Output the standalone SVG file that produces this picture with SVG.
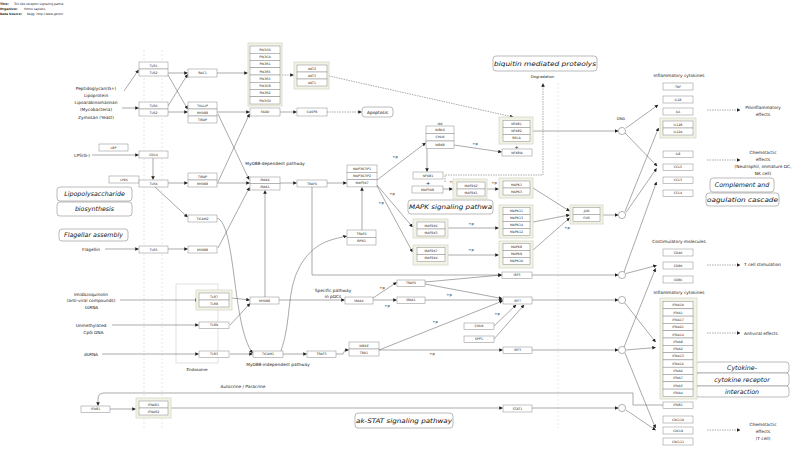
<svg xmlns="http://www.w3.org/2000/svg" width="800" height="451" viewBox="0 0 800 451">
<defs>
<marker id="a" viewBox="0 0 10 10" refX="9" refY="5" markerWidth="3.6" markerHeight="3.6" markerUnits="userSpaceOnUse" orient="auto"><path d="M0,0L10,5L0,10z" fill="#222"/></marker>
</defs>
<style>
text{font-family:"DejaVu Sans",sans-serif;fill:#222}
.n rect{fill:#fff;stroke:#888;stroke-width:.5}
.n text{font-size:3.2px;text-anchor:middle}
.n .fr{fill:#f2f2e6;stroke:#d8d8c8;stroke-width:.8}
.c line,.c path{fill:none;stroke:#555;stroke-width:.5;marker-end:url(#a)}
.c .d{stroke-dasharray:1.5 1}
.p rect{fill:#fff;stroke:#777;stroke-width:.5}
.p text{font-size:6.3px;font-style:italic;text-anchor:middle;fill:#111}
.lb{font-size:4.3px;text-anchor:middle}
.sm{font-size:3.8px;text-anchor:middle}
.g{stroke:#ccc;stroke-width:.5;stroke-dasharray:2 2;fill:none}
.dna{fill:#fff;stroke:#666;stroke-width:.5}
</style>
<rect width="800" height="451" fill="#fff"/>
<g id="header" font-size="3">
<text x="0" y="5.2" font-weight="bold">Title:</text><text x="14" y="5.2">Toll-like receptor signaling pathw</text>
<text x="0" y="10.2" font-weight="bold">Organism:</text><text x="24" y="10.2">Homo sapiens</text>
<text x="0" y="15.3" font-weight="bold">Data Source:</text><text x="27" y="15.3">Kegg: http://www.genon</text>
</g>
<path class="g" d="M144,50V430M162,50V430M558,83V428"/>
<g id="endosome"><rect x="176" y="284" width="42" height="79" fill="none" stroke="#ccc" stroke-width=".6"/><text x="197" y="370.5" font-size="4" text-anchor="middle">Endosome</text></g>

<g id="labels">
<text class="lb" x="96" y="90">Peptidoglycan(G+)</text>
<text class="lb" x="96" y="96.8">Lipoprotein</text>
<text class="lb" x="96" y="103.8">Lipoarabinomannan</text>
<text class="lb" x="96" y="110.8">(Mycobacteria)</text>
<text class="lb" x="96" y="118.8">Zymosan (Yeast)</text>
<text class="lb" x="90" y="156.8" style="text-anchor:end">LPS(G-)</text>
<text class="lb" x="91" y="250.6">Flagellin</text>
<text class="lb" x="91" y="295.8">Imidazoquinolin</text>
<text class="lb" x="91" y="302.2">(anti-viral compounds)</text>
<text class="lb" x="91.5" y="308.6">ssRNA</text>
<text class="lb" x="91" y="326.6">Unmethylated</text>
<text class="lb" x="93.5" y="334.4">CpG DNA</text>
<text class="lb" x="91" y="355.6">dsRNA</text>
<text class="lb" x="275" y="164.5">MyD88-dependent pathway</text>
<text class="lb" x="278" y="366">MyD88-independent pathway</text>
<text class="lb" x="243" y="388">Autocrine / Paracrine</text>
<text class="lb" x="333" y="291.5">Specific pathway</text>
<text class="lb" x="333" y="297.8">in pDCs</text>
<text class="sm" x="542.5" y="77.5">Degradation</text>
<text class="sm" x="621" y="120">DNA</text>
<text class="lb" x="679" y="77">Inflammatory cytokines</text>
<text class="lb" x="763" y="109">Proinflammatory</text>
<text class="lb" x="763" y="116">effects</text>
<text class="lb" x="763" y="154">Chemotactic</text>
<text class="lb" x="763" y="161">effects</text>
<text class="lb" x="763" y="168">(Neutrophil, immature DC,</text>
<text class="lb" x="763" y="175">NK cell)</text>
<text class="lb" x="679" y="243">Costimulatory molecules</text>
<text class="lb" x="744" y="266" style="text-anchor:start">T cell stimulation</text>
<text class="lb" x="679" y="294">Inflammatory cytokines</text>
<text class="lb" x="744" y="335" style="text-anchor:start">Antiviral effects</text>
<text class="lb" x="763" y="426">Chemotactic</text>
<text class="lb" x="763" y="433">effects</text>
<text class="lb" x="763" y="440">(T cell)</text>
<g class="sm">
<text x="475" y="145">+p</text><text x="395" y="158">+p</text><text x="392" y="195">+p</text><text x="381" y="204">+p</text>
<text x="452" y="183">+p</text><text x="494" y="184">+p</text><text x="471" y="225">+p</text><text x="471" y="251">+p</text>
<text x="567" y="229">+p</text><text x="449" y="296">+p</text><text x="387" y="307">+p</text><text x="382" y="289">+p</text>
<text x="435" y="323">+p</text><text x="432" y="355">+p</text><text x="497" y="315">+p</text>
</g>
<text x="516.5" y="148.6" font-size="5" text-anchor="middle">+</text>
<text x="428" y="185.3" font-size="5" text-anchor="middle">+</text>
</g>

<g class="p">
<g id="pw_apoptosis"><rect x="362" y="107" width="31" height="10" rx="3"/><text x="377.5" y="113.6" style="font-style:normal;font-size:4.3px">Apoptosis</text></g>
<g id="pw_ubiquitin"><rect x="493" y="56" width="104" height="15" rx="3"/><text x="545" y="66" textLength="102" lengthAdjust="spacingAndGlyphs">biquitin mediated proteolys</text></g>
<g id="pw_lps"><rect x="57" y="187" width="75" height="14" rx="3"/><text x="94.5" y="196.3">Lipopolysaccharide</text><rect x="57" y="202" width="75" height="14" rx="3"/><text x="94.5" y="211.3">biosynthesis</text></g>
<g id="pw_flagellar"><rect x="59" y="229" width="69" height="12" rx="3"/><text x="93.5" y="237.3">Flagellar assembly</text></g>
<g id="pw_mapk"><rect x="408" y="200" width="85" height="14" rx="3"/><text x="450.5" y="209.3" textLength="83" lengthAdjust="spacingAndGlyphs">MAPK signaling pathwa</text></g>
<g id="pw_complement"><rect x="710" y="178" width="64" height="14" rx="3"/><text x="742" y="187.3">Complement and</text><rect x="706" y="193" width="73" height="13" rx="3"/><text x="742.5" y="202" textLength="71" lengthAdjust="spacingAndGlyphs">oagulation cascade</text></g>
<g id="pw_cytokine"><rect x="696" y="362" width="93" height="11" rx="3"/><text x="742" y="369.8">Cytokine-</text><rect x="696" y="373" width="93" height="13" rx="3"/><text x="742" y="381.8">cytokine receptor</text><rect x="696" y="386" width="93" height="11" rx="3"/><text x="742" y="393.8">interaction</text></g>
<g id="pw_jakstat"><rect x="355" y="413" width="98" height="15" rx="3"/><text x="404" y="423" textLength="96" lengthAdjust="spacingAndGlyphs">ak-STAT signaling pathway</text></g>
</g>

<g id="connectors" class="c">
<line x1="124" y1="91" x2="138.5" y2="70"/>
<line x1="122" y1="108" x2="138.5" y2="108"/>
<line x1="168" y1="73" x2="187.5" y2="73"/>
<line x1="168" y1="75" x2="187.5" y2="109"/>
<line x1="168" y1="106" x2="187.5" y2="74.5"/>
<line x1="168" y1="112" x2="187.5" y2="112"/>
<line x1="217" y1="73" x2="247.5" y2="73"/>
<line class="d" x1="282" y1="75" x2="293.5" y2="75"/>
<line class="d" x1="329" y1="76" x2="513" y2="117"/>
<line x1="217" y1="112" x2="249.5" y2="112"/>
<line x1="218" y1="114" x2="249" y2="179.5"/>
<line x1="218" y1="182" x2="249.5" y2="114"/>
<line x1="280" y1="112" x2="296.5" y2="112"/>
<line class="d" x1="327" y1="112" x2="361.5" y2="112"/>
<line x1="92" y1="155" x2="138.5" y2="155"/>
<line x1="153" y1="158" x2="153" y2="179.5"/>
<line x1="168" y1="183" x2="187.5" y2="183"/>
<line x1="155" y1="187" x2="187.5" y2="217"/>
<line x1="217" y1="183" x2="249.5" y2="183"/>
<line x1="105" y1="249" x2="138.5" y2="249"/>
<line x1="168" y1="249" x2="187.5" y2="249"/>
<line x1="218" y1="248" x2="249.5" y2="187.5"/>
<line x1="280" y1="183" x2="296.5" y2="183"/>
<line x1="327" y1="183" x2="346.5" y2="183"/>
<path d="M312,187V275H501.5"/>
<line x1="362" y1="230" x2="362" y2="187.5"/>
<path d="M217,218C236,224 232,325 252.5,353"/>
<path d="M281,351C292,320 286,290 300,266S330,240 346.5,236"/>
<line x1="377" y1="180" x2="425.5" y2="143"/>
<line x1="454" y1="145" x2="501.5" y2="152"/>
<line x1="427" y1="148" x2="427" y2="171.5"/>
<line x1="377" y1="185" x2="412.5" y2="227"/>
<line x1="377" y1="186" x2="412.5" y2="252"/>
<line x1="443" y1="189" x2="452.5" y2="189"/>
<line x1="487" y1="189" x2="498.5" y2="189"/>
<line x1="448" y1="228" x2="498.5" y2="228"/>
<line x1="448" y1="255" x2="498.5" y2="255"/>
<line x1="533" y1="188" x2="569.5" y2="211"/>
<line x1="533" y1="222" x2="569.5" y2="215"/>
<line x1="533" y1="250" x2="569.5" y2="218"/>
<line x1="603" y1="215" x2="618" y2="215"/>
<line x1="533" y1="131" x2="618" y2="131"/>
<line x1="532" y1="275" x2="618" y2="275"/>
<line x1="425" y1="282" x2="501.5" y2="275"/>
<line x1="425" y1="284" x2="502" y2="298.5"/>
<line x1="373" y1="298" x2="396.5" y2="282.5"/>
<line x1="279" y1="300" x2="344.5" y2="300"/>
<line x1="373" y1="300" x2="396.5" y2="300"/>
<line x1="425" y1="300" x2="502.5" y2="300"/>
<line x1="265" y1="297" x2="265" y2="190.5"/>
<line x1="232" y1="298" x2="249.5" y2="300"/>
<line x1="230" y1="325" x2="250" y2="303.5"/>
<line x1="230" y1="354" x2="252.5" y2="354"/>
<line x1="120" y1="300" x2="198" y2="300"/>
<line x1="112" y1="325" x2="198.5" y2="325"/>
<line x1="102" y1="354" x2="198.5" y2="354"/>
<line x1="283" y1="354" x2="306.5" y2="354"/>
<path d="M336,354H343L345,350H348.5"/>
<line x1="379" y1="350" x2="502.5" y2="301"/>
<line x1="379" y1="350" x2="502.5" y2="350"/>
<line x1="494" y1="326" x2="516" y2="305"/>
<line x1="494" y1="339" x2="524" y2="305"/>
<line x1="532" y1="300" x2="618" y2="300"/>
<line x1="532" y1="350" x2="618" y2="350"/>
<line x1="532" y1="408" x2="618" y2="408"/>
<path class="d" d="M445,182V175H543V83.5"/>
<path d="M663,405H633V393H104Q98,393 98,399V405.5" stroke="#888"/>
<line x1="110" y1="409" x2="135.5" y2="409"/>
<line x1="171" y1="408" x2="502.5" y2="408"/>
<line x1="626" y1="128" x2="658" y2="105"/>
<line x1="625" y1="133" x2="657" y2="166"/>
<line x1="625" y1="211.5" x2="658.5" y2="128"/>
<line x1="626" y1="212.5" x2="656.5" y2="168.5"/>
<line x1="624" y1="272" x2="656.5" y2="182"/>
<line x1="626" y1="273.5" x2="656.5" y2="265.5"/>
<line x1="624.5" y1="302.5" x2="655.5" y2="342"/>
<line x1="624" y1="347" x2="655.5" y2="268.5"/>
<line x1="626" y1="350" x2="655.5" y2="347.5"/>
<line x1="625" y1="353" x2="655.5" y2="428"/>
<line x1="626" y1="410" x2="655.5" y2="430"/>
<line class="d" x1="707" y1="110" x2="740" y2="110"/>
<line class="d" x1="707" y1="160" x2="740" y2="160"/>
<line class="d" x1="707" y1="265" x2="740" y2="265"/>
<line class="d" x1="707" y1="333" x2="740" y2="333"/>
<line class="d" x1="707" y1="430" x2="740" y2="430"/>
</g>

<g class="n">
<g id="tlr1_2"><rect x="139" y="62" width="29" height="7"/><text x="153.5" y="66.65">TLR1</text><rect x="139" y="69" width="29" height="7"/><text x="153.5" y="73.65">TLR2</text></g>
<g id="tlr6_2"><rect x="139" y="102" width="29" height="7"/><text x="153.5" y="106.65">TLR6</text><rect x="139" y="109" width="29" height="7"/><text x="153.5" y="113.65">TLR2</text></g>
<g id="rac1"><rect x="188" y="69" width="29" height="8"/><text x="202.5" y="74.15">RAC1</text></g>
<g id="tollip"><rect x="188" y="102" width="29" height="7"/><text x="202.5" y="106.65">TOLLIP</text><rect x="188" y="109" width="29" height="7"/><text x="202.5" y="113.65">MYD88</text><rect x="188" y="116" width="29" height="7"/><text x="202.5" y="120.65">TIRAP</text></g>
<g id="pik3"><rect class="fr" x="248" y="43" width="34" height="63"/>
<rect x="250" y="46" width="30" height="7.25"/><text x="265" y="50.8">PIK3CG</text>
<rect x="250" y="53.25" width="30" height="7.25"/><text x="265" y="58">PIK3CA</text>
<rect x="250" y="60.5" width="30" height="7.25"/><text x="265" y="65.3">PIK3R1</text>
<rect x="250" y="67.75" width="30" height="7.25"/><text x="265" y="72.5">PIK3R5</text>
<rect x="250" y="75" width="30" height="7.25"/><text x="265" y="79.8">PIK3R3</text>
<rect x="250" y="82.25" width="30" height="7.25"/><text x="265" y="87">PIK3CB</text>
<rect x="250" y="89.5" width="30" height="7.25"/><text x="265" y="94.3">PIK3R2</text>
<rect x="250" y="96.75" width="30" height="7.25"/><text x="265" y="101.5">PIK3CD</text></g>
<g id="akt"><rect class="fr" x="294" y="62" width="35" height="27"/>
<rect x="297" y="65" width="30" height="7"/><text x="312" y="69.65">AKT2</text>
<rect x="297" y="72" width="30" height="7"/><text x="312" y="76.65">AKT3</text>
<rect x="297" y="79" width="30" height="7"/><text x="312" y="83.65">AKT1</text></g>
<g id="fadd"><rect x="250" y="108" width="30" height="8"/><text x="265" y="113.15">FADD</text></g>
<g id="casp8"><rect x="297" y="108" width="30" height="8"/><text x="312" y="113.15">CASP8</text></g>
<g id="lbp"><rect x="99" y="144" width="29" height="7"/><text x="113.5" y="148.65">LBP</text></g>
<g id="cd14"><rect x="139" y="151" width="29" height="7"/><text x="153.5" y="155.65">CD14</text></g>
<g id="ly96"><rect x="109" y="176" width="30" height="7"/><text x="124" y="180.65">LY96</text></g>
<g id="tlr4"><rect x="139" y="180" width="29" height="7"/><text x="153.5" y="184.65">TLR4</text></g>
<g id="tirap_myd88"><rect x="188" y="173" width="29" height="7"/><text x="202.5" y="177.65">TIRAP</text><rect x="188" y="180" width="29" height="7"/><text x="202.5" y="184.65">MYD88</text></g>
<g id="ticam2"><rect x="188" y="215" width="29" height="7"/><text x="202.5" y="219.65">TICAM2</text></g>
<g id="tlr5"><rect x="139" y="246" width="29" height="7"/><text x="153.5" y="250.65">TLR5</text></g>
<g id="myd88_tlr5"><rect x="188" y="246" width="29" height="7"/><text x="202.5" y="250.65">MYD88</text></g>
<g id="irak4_1"><rect x="250" y="177" width="30" height="6.5"/><text x="265" y="181.4">IRAK4</text><rect x="250" y="183.5" width="30" height="6.5"/><text x="265" y="187.9">IRAK1</text></g>
<g id="traf6"><rect x="297" y="180" width="30" height="7"/><text x="312" y="184.65">TRAF6</text></g>
<g id="map3k7"><rect x="347" y="165" width="30" height="7.3"/><text x="362" y="169.8">MAP3K7IP1</text><rect x="347" y="172.3" width="30" height="7.3"/><text x="362" y="177.1">MAP3K7IP2</text><rect x="347" y="179.6" width="30" height="7.3"/><text x="362" y="184.4">MAP3K7</text></g>
<g id="traf6_ripk1"><rect x="347" y="230" width="29" height="7.5"/><text x="361.5" y="234.9">TRAF6</text><rect x="347" y="237.5" width="29" height="7.5"/><text x="361.5" y="242.4">RIPK1</text></g>
<g id="ikk"><text x="440" y="124.5">IKK</text><rect x="426" y="126" width="28" height="7.5"/><text x="440" y="130.9">IKBKG</text><rect x="426" y="133.5" width="28" height="7.5"/><text x="440" y="138.4">CHUK</text><rect x="426" y="141" width="28" height="7.5"/><text x="440" y="145.9">IKBKB</text></g>
<g id="nfkb"><rect class="fr" x="499" y="117" width="34" height="27"/><rect x="503" y="120.5" width="27" height="7"/><text x="516.5" y="125.15">NFKB1</text><rect x="503" y="127.5" width="27" height="7"/><text x="516.5" y="132.15">NFKB2</text><rect x="503" y="134.5" width="27" height="7"/><text x="516.5" y="139.15">RELA</text></g>
<g id="nfkbia"><rect x="502" y="149" width="30" height="7"/><text x="517" y="153.65">NFKBIA</text></g>
<g id="nfkb1_map3k8"><rect x="413" y="172" width="30" height="7"/><text x="428" y="176.65">NFKB1</text><rect x="412" y="186" width="31" height="7"/><text x="427.5" y="190.65">MAP3K8</text></g>
<g id="map2k1_2"><rect class="fr" x="453" y="179" width="34" height="20"/><rect x="457" y="182" width="28" height="7"/><text x="471" y="186.65">MAP2K2</text><rect x="457" y="189" width="28" height="7"/><text x="471" y="193.65">MAP2K1</text></g>
<g id="mapk1_3"><rect class="fr" x="499" y="178" width="34" height="20"/><rect x="503" y="181" width="27" height="7"/><text x="516.5" y="185.65">MAPK1</text><rect x="503" y="188" width="27" height="7"/><text x="516.5" y="192.65">MAPK3</text></g>
<g id="map2k6_3"><rect class="fr" x="413" y="219" width="35" height="19"/><rect x="417" y="222" width="28" height="7"/><text x="431" y="226.65">MAP2K6</text><rect x="417" y="229" width="28" height="7"/><text x="431" y="233.65">MAP2K3</text></g>
<g id="map2k7_4"><rect class="fr" x="413" y="245" width="35" height="20"/><rect x="417" y="247.5" width="28" height="7"/><text x="431" y="252.15">MAP2K7</text><rect x="417" y="254.5" width="28" height="7"/><text x="431" y="259.15">MAP2K4</text></g>
<g id="p38"><rect class="fr" x="499" y="205" width="34" height="33"/><rect x="503" y="207.5" width="27" height="7"/><text x="516.5" y="212.15">MAPK11</text><rect x="503" y="214.5" width="27" height="7"/><text x="516.5" y="219.15">MAPK13</text><rect x="503" y="221.5" width="27" height="7"/><text x="516.5" y="226.15">MAPK14</text><rect x="503" y="228.5" width="27" height="7"/><text x="516.5" y="233.15">MAPK12</text></g>
<g id="jnk"><rect class="fr" x="499" y="241" width="34" height="27"/><rect x="503" y="243.5" width="27" height="7"/><text x="516.5" y="248.15">MAPK8</text><rect x="503" y="250.5" width="27" height="7"/><text x="516.5" y="255.15">MAPK9</text><rect x="503" y="257.5" width="27" height="7"/><text x="516.5" y="262.15">MAPK10</text></g>
<g id="jun_fos"><rect class="fr" x="570" y="205" width="33" height="19"/><rect x="573" y="207.5" width="27" height="7"/><text x="586.5" y="212.15">JUN</text><rect x="573" y="214.5" width="27" height="7"/><text x="586.5" y="219.15">FOS</text></g>
<g id="irf5"><rect x="502" y="272" width="30" height="6.5"/><text x="517" y="276.4">IRF5</text></g>
<g id="traf6_pdc"><rect x="397" y="280" width="28" height="6.5"/><text x="411" y="284.4">TRAF6</text></g>
<g id="tlr7_8"><rect class="fr" x="196" y="290" width="36" height="20"/><rect x="199" y="293" width="30" height="7"/><text x="214" y="297.65">TLR7</text><rect x="199" y="300" width="30" height="7"/><text x="214" y="304.65">TLR8</text></g>
<g id="tlr9"><rect x="199" y="322" width="30" height="6.5"/><text x="214" y="326.4">TLR9</text></g>
<g id="tlr3"><rect x="199" y="351" width="30" height="6.5"/><text x="214" y="355.4">TLR3</text></g>
<g id="myd88_low"><rect x="250" y="297" width="29" height="7"/><text x="264.5" y="301.65">MYD88</text></g>
<g id="irak4_low"><rect x="345" y="297" width="28" height="7"/><text x="359" y="301.65">IRAK4</text></g>
<g id="irak1_low"><rect x="397" y="297" width="28" height="6.5"/><text x="411" y="301.4">IRAK1</text></g>
<g id="irf7"><rect x="503" y="297" width="29" height="7"/><text x="517.5" y="301.65">IRF7</text></g>
<g id="chuk"><rect x="464" y="323" width="30" height="6.5"/><text x="479" y="327.4">CHUK</text></g>
<g id="spp1"><rect x="464" y="336" width="30" height="6.5"/><text x="479" y="340.4">SPP1</text></g>
<g id="ticam1"><rect x="253" y="351" width="30" height="6.5"/><text x="268" y="355.4">TICAM1</text></g>
<g id="traf3"><rect x="307" y="351" width="29" height="6.5"/><text x="321.5" y="355.4">TRAF3</text></g>
<g id="ikbke_tbk1"><rect x="349" y="342" width="30" height="7"/><text x="364" y="346.65">IKBKE</text><rect x="349" y="349" width="30" height="7"/><text x="364" y="353.65">TBK1</text></g>
<g id="irf3"><rect x="503" y="347" width="29" height="6.5"/><text x="517.5" y="351.4">IRF3</text></g>
<g id="ifnb1_left"><rect x="81" y="406" width="29" height="6.5"/><text x="95.5" y="410.4">IFNB1</text></g>
<g id="ifnar"><rect class="fr" x="136" y="398" width="35" height="20"/><rect x="139" y="401" width="29" height="7"/><text x="153.5" y="405.65">IFNAR1</text><rect x="139" y="408" width="29" height="7"/><text x="153.5" y="412.65">IFNAR2</text></g>
<g id="stat1"><rect x="503" y="405" width="29" height="7"/><text x="517.5" y="409.65">STAT1</text></g>
<g id="tnf"><rect x="663" y="83" width="30" height="7"/><text x="678" y="87.65">TNF</text></g>
<g id="il1b"><rect x="663" y="96" width="30" height="7"/><text x="678" y="100.65">IL1B</text></g>
<g id="il6"><rect x="663" y="108" width="30" height="7"/><text x="678" y="112.65">IL6</text></g>
<g id="il12"><rect class="fr" x="660" y="118" width="36" height="20"/><rect x="663" y="121" width="30" height="7"/><text x="678" y="125.65">IL12B</text><rect x="663" y="128" width="30" height="7"/><text x="678" y="132.65">IL12A</text></g>
<g id="il8"><rect x="663" y="151" width="30" height="6.5"/><text x="678" y="155.4">IL8</text></g>
<g id="ccl5"><rect x="663" y="164" width="30" height="6.5"/><text x="678" y="168.4">CCL5</text></g>
<g id="ccl3"><rect x="663" y="177" width="30" height="6.5"/><text x="678" y="181.4">CCL3</text></g>
<g id="ccl4"><rect x="663" y="190" width="30" height="6.5"/><text x="678" y="194.4">CCL4</text></g>
<g id="cd40"><rect x="663" y="249" width="30" height="7"/><text x="678" y="253.65">CD40</text></g>
<g id="cd80"><rect x="663" y="262" width="30" height="7"/><text x="678" y="266.65">CD80</text></g>
<g id="cd86"><rect x="663" y="276" width="30" height="7"/><text x="678" y="280.65">CD86</text></g>
<g id="ifna"><rect class="fr" x="660" y="298" width="37" height="101"/>
<rect x="663" y="301.5" width="30" height="7.3"/><text x="678" y="306.3">IFNA10</text>
<rect x="663" y="308.8" width="30" height="7.3"/><text x="678" y="313.6">IFNA1</text>
<rect x="663" y="316.1" width="30" height="7.3"/><text x="678" y="320.9">IFNA17</text>
<rect x="663" y="323.4" width="30" height="7.3"/><text x="678" y="328.2">IFNA21</text>
<rect x="663" y="330.7" width="30" height="7.3"/><text x="678" y="335.5">IFNA14</text>
<rect x="663" y="338" width="30" height="7.3"/><text x="678" y="342.8">IFNA8</text>
<rect x="663" y="345.3" width="30" height="7.3"/><text x="678" y="350.1">IFNA2</text>
<rect x="663" y="352.6" width="30" height="7.3"/><text x="678" y="357.4">IFNA13</text>
<rect x="663" y="359.9" width="30" height="7.3"/><text x="678" y="364.7">IFNA16</text>
<rect x="663" y="367.2" width="30" height="7.3"/><text x="678" y="372">IFNA6</text>
<rect x="663" y="374.5" width="30" height="7.3"/><text x="678" y="379.3">IFNA7</text>
<rect x="663" y="381.8" width="30" height="7.3"/><text x="678" y="386.6">IFNA5</text>
<rect x="663" y="389.1" width="30" height="7.3"/><text x="678" y="393.9">IFNA4</text></g>
<g id="ifnb1_right"><rect x="663" y="402" width="30" height="6.5"/><text x="678" y="406.4">IFNB1</text></g>
<g id="cxcl10"><rect x="663" y="416" width="30" height="7"/><text x="678" y="420.65">CXCL10</text></g>
<g id="cxcl9"><rect x="663" y="427" width="30" height="7"/><text x="678" y="431.65">CXCL9</text></g>
<g id="cxcl11"><rect x="663" y="438" width="30" height="7"/><text x="678" y="442.65">CXCL11</text></g>
</g>
<g id="dna_sites">
<circle class="dna" cx="622" cy="131" r="3.6"/>
<circle class="dna" cx="622" cy="215" r="3.6"/>
<circle class="dna" cx="622" cy="275" r="3.6"/>
<circle class="dna" cx="622" cy="300" r="3.6"/>
<circle class="dna" cx="622" cy="350" r="3.6"/>
<circle class="dna" cx="622" cy="408" r="3.6"/>
</g>
</svg>
